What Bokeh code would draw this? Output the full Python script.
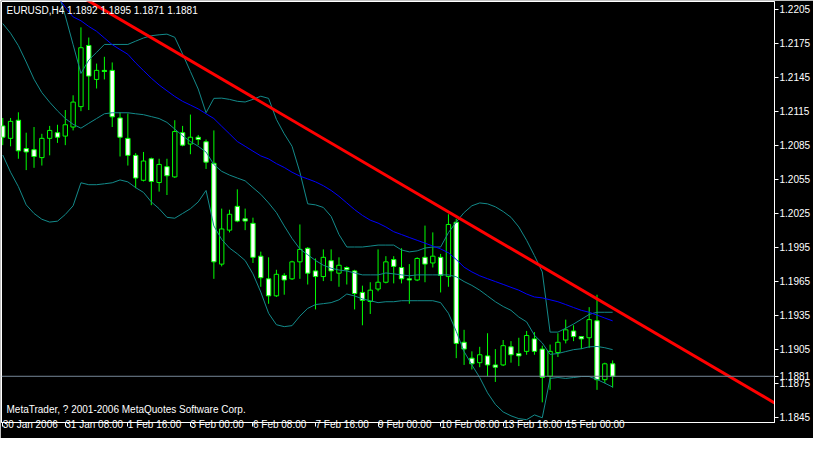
from bokeh.plotting import figure
from bokeh.models import Range1d, FixedTicker, Span, Label
from bokeh.embed import file_html
from bokeh.resources import INLINE

# ---- price data (EURUSD H4), bar index 0 = 30 Jan 2006 00:00 ----
opens = [1.2102, 1.2091, 1.2107, 1.2082, 1.2081, 1.2074, 1.2091, 1.2096, 1.2093, 1.2101,
         1.2119, 1.2173, 1.2143, 1.2151, 1.2151, 1.2109, 1.2091, 1.2076, 1.2054, 1.2073,
         1.2052, 1.2066, 1.2057, 1.2096, 1.2086, 1.2092, 1.2088, 1.2069, 1.1980, 1.2010,
         1.2031, 1.2020, 1.2016, 1.1987, 1.1967, 1.1952, 1.1970, 1.1967, 1.1982, 1.1994,
         1.1974, 1.1969, 1.1983, 1.1972, 1.1977, 1.1974, 1.1955, 1.1947, 1.1958, 1.1964,
         1.1984, 1.1977, 1.1967, 1.1966, 1.1986, 1.1981, 1.1986, 1.1969, 1.2017, 1.1911,
         1.1897, 1.1893, 1.1899, 1.1891, 1.1891, 1.1907, 1.1901, 1.1903, 1.1914, 1.1905,
         1.1881, 1.1902, 1.1913, 1.1921, 1.1916, 1.1915, 1.1930, 1.1878, 1.1892]
highs = [1.2109, 1.2109, 1.2114, 1.2096, 1.2101, 1.2095, 1.2102, 1.2103, 1.2116, 1.2129,
         1.2189, 1.2180, 1.2157, 1.2163, 1.2158, 1.2114, 1.2113, 1.2078, 1.2079, 1.2074,
         1.2073, 1.2073, 1.2107, 1.2102, 1.2112, 1.2094, 1.2090, 1.2098, 1.2029, 1.2028,
         1.2046, 1.2029, 1.2021, 1.1991, 1.1986, 1.1975, 1.1972, 1.1983, 1.2015, 1.1995,
         1.1985, 1.1993, 1.1993, 1.1986, 1.1978, 1.1975, 1.1961, 1.1964, 1.1993, 1.1987,
         1.1987, 1.1994, 1.1980, 1.1986, 1.2014, 1.2008, 1.1989, 1.2024, 1.2020, 1.1922,
         1.1903, 1.1907, 1.1919, 1.1905, 1.1913, 1.1912, 1.1915, 1.1921, 1.1920, 1.1908,
         1.1909, 1.1919, 1.1931, 1.1926, 1.1916, 1.1942, 1.1953, 1.1893, 1.1895]
lows = [1.2085, 1.2084, 1.2073, 1.2063, 1.2065, 1.2067, 1.2076, 1.2087, 1.2085, 1.2098,
        1.2115, 1.2116, 1.2135, 1.2143, 1.2101, 1.2075, 1.2067, 1.2047, 1.2053, 1.2032,
        1.2044, 1.2041, 1.2056, 1.2084, 1.2077, 1.2085, 1.2064, 1.1967, 1.1978, 1.2008,
        1.2017, 1.2010, 1.1981, 1.1960, 1.1945, 1.1951, 1.1953, 1.1966, 1.1967, 1.1962,
        1.1940, 1.1965, 1.1965, 1.1960, 1.1962, 1.1940, 1.1926, 1.1936, 1.1956, 1.1963,
        1.1963, 1.1963, 1.1945, 1.1965, 1.1964, 1.1977, 1.1955, 1.1960, 1.1897, 1.1891,
        1.1887, 1.1889, 1.1881, 1.1876, 1.1890, 1.1893, 1.1890, 1.1900, 1.1900, 1.1858,
        1.1869, 1.1898, 1.1910, 1.1912, 1.1905, 1.1906, 1.1869, 1.1875, 1.1871]
closes = [1.2092, 1.2106, 1.2080, 1.2079, 1.2075, 1.2091, 1.2098, 1.2092, 1.2103, 1.2123,
          1.2171, 1.2146, 1.2151, 1.2150, 1.2110, 1.2092, 1.2076, 1.2056, 1.2071, 1.2053,
          1.2068, 1.2058, 1.2097, 1.2085, 1.2092, 1.2090, 1.2070, 1.1982, 1.2011, 1.2024,
          1.2018, 1.2018, 1.1986, 1.1968, 1.1952, 1.1971, 1.1966, 1.1982, 1.1993, 1.1972,
          1.1969, 1.1986, 1.1974, 1.1979, 1.1975, 1.1954, 1.1948, 1.1957, 1.1964, 1.1982,
          1.1978, 1.1967, 1.1966, 1.1985, 1.1980, 1.1987, 1.1970, 1.2015, 1.1910, 1.1905,
          1.1892, 1.1900, 1.1891, 1.1889, 1.1908, 1.1900, 1.1899, 1.1917, 1.1903, 1.1880,
          1.1903, 1.1911, 1.1922, 1.1916, 1.1914, 1.1931, 1.1878, 1.1892, 1.1881]

# ---- Bollinger bands (all bars) ----
band_mid = [1.21923, 1.21838, 1.21728, 1.21584, 1.21432, 1.21314, 1.21229, 1.21153, 1.21085, 1.21034,
            1.21000, 1.21043, 1.21085, 1.21127, 1.21136, 1.21136, 1.21136, 1.21127, 1.21119, 1.21102,
            1.21085, 1.21051, 1.20992, 1.20933, 1.20882, 1.20840, 1.20789, 1.20679, 1.20619, 1.20586,
            1.20560, 1.20535, 1.20475, 1.20416, 1.20340, 1.20255, 1.20137, 1.20027, 1.19934, 1.19883,
            1.19832, 1.19790, 1.19764, 1.19748, 1.19739, 1.19722, 1.19705, 1.19705, 1.19705, 1.19722,
            1.19714, 1.19705, 1.19697, 1.19705, 1.19705, 1.19705, 1.19705, 1.19705, 1.19688, 1.19646,
            1.19612, 1.19570, 1.19519, 1.19468, 1.19426, 1.19392, 1.19333, 1.19290, 1.19172, 1.19104,
            1.19003, 1.19011, 1.19028, 1.19045, 1.19053, 1.19070, 1.19073, 1.19062, 1.19045]
band_low = [1.20763, 1.20611, 1.20484, 1.20323, 1.20247, 1.20196, 1.20171, 1.20179, 1.20238, 1.20315,
            1.20518, 1.20501, 1.20501, 1.20509, 1.20518, 1.20543, 1.20526, 1.20475, 1.20433, 1.20349,
            1.20289, 1.20213, 1.20205, 1.20247, 1.20289, 1.20349, 1.20450, 1.20137, 1.20018, 1.19942,
            1.19891, 1.19832, 1.19714, 1.19553, 1.19366, 1.19265, 1.19248, 1.19257, 1.19341, 1.19409,
            1.19443, 1.19451, 1.19460, 1.19485, 1.19536, 1.19519, 1.19493, 1.19477, 1.19460, 1.19468,
            1.19468, 1.19477, 1.19477, 1.19477, 1.19477, 1.19477, 1.19460, 1.19366, 1.19206, 1.19028,
            1.18910, 1.18799, 1.18664, 1.18562, 1.18495, 1.18461, 1.18436, 1.18427, 1.18469, 1.18444,
            1.18791, 1.18799, 1.18791, 1.18799, 1.18808, 1.18808, 1.18782, 1.18749, 1.18715]
# upper band and moving average start at bar 7 (earlier values above the chart)
upper_start = 7
band_up = [1.22219, 1.21991, 1.21737, 1.21483, 1.21601, 1.21669, 1.21739, 1.21739, 1.21739, 1.21739,
           1.21768, 1.21796, 1.21816, 1.21824, 1.21830, 1.21802, 1.21655, 1.21500, 1.21345, 1.21136,
           1.21263, 1.21265, 1.21254, 1.21237, 1.21231, 1.21254, 1.21282, 1.21263, 1.21077, 1.20950,
           1.20840, 1.20611, 1.20332, 1.20323, 1.20300, 1.20221, 1.20061, 1.19951, 1.19951, 1.19951,
           1.19959, 1.19968, 1.19968, 1.19968, 1.19925, 1.19908, 1.19917, 1.19942, 1.19951, 1.19951,
           1.20078, 1.20171, 1.20255, 1.20315, 1.20340, 1.20332, 1.20306, 1.20264, 1.20213, 1.20128,
           1.20010, 1.19875, 1.19731, 1.19200, 1.19200, 1.19234, 1.19271, 1.19313, 1.19356, 1.19375,
           1.19375, 1.19375]
ma_blue = [1.22160, 1.22067, 1.21982, 1.21948, 1.21898, 1.21855, 1.21796, 1.21737, 1.21694, 1.21652,
           1.21576, 1.21508, 1.21441, 1.21381, 1.21330, 1.21280, 1.21237, 1.21204, 1.21170, 1.21127,
           1.21085, 1.21017, 1.20950, 1.20882, 1.20840, 1.20797, 1.20755, 1.20729, 1.20687, 1.20653,
           1.20611, 1.20577, 1.20552, 1.20526, 1.20492, 1.20450, 1.20399, 1.20340, 1.20281, 1.20230,
           1.20188, 1.20162, 1.20128, 1.20086, 1.20061, 1.20035, 1.20010, 1.19985, 1.19959, 1.19934,
           1.19900, 1.19841, 1.19773, 1.19731, 1.19697, 1.19671, 1.19646, 1.19621, 1.19595, 1.19570,
           1.19536, 1.19510, 1.19502, 1.19485, 1.19468, 1.19443, 1.19417, 1.19392, 1.19375, 1.19350,
           1.19324, 1.19299]

# ---- trend line (two anchor points, bar index / price) ----
trend_x = [0, 98.7]
trend_y = [1.22567, 1.18575]

# ---- axes ----
y_ticks = [1.1845, 1.1875, 1.1905, 1.1935, 1.1965, 1.1995, 1.2025, 1.2055, 1.2085,
           1.2115, 1.2145, 1.2175, 1.2205]
y_tick_labels = ["1.1845", "1.1875", "1.1905", "1.1935", "1.1965", "1.1995", "1.2025",
                 "1.2055", "1.2085", "1.2115", "1.2145", "1.2175", "1.2205"]
x_ticks = [0, 8, 16, 24, 32, 40, 48, 56, 64, 72]
x_tick_labels = ["30 Jan 2006", "31 Jan 08:00", "1 Feb 16:00", "3 Feb 00:00", "6 Feb 08:00",
                 "7 Feb 16:00", "9 Feb 00:00", "10 Feb 08:00", "13 Feb 16:00", "15 Feb 00:00"]
x_min, x_max = -0.16, 98.7
y_min, y_max = 1.18402, 1.22118

symbol_text = "EURUSD,H4  1.1892 1.1895 1.1871 1.1881"
copyright_text = "MetaTrader, ? 2001-2006 MetaQuotes Software Corp."
bid_text = "1.1881"

FONT = "Liberation Sans"
GREEN = "#00FF00"
TEAL = "#138a8a"

bars = list(range(len(opens)))

p = figure(width=813, height=438, output_backend="svg", toolbar_location=None,
           x_range=Range1d(x_min, x_max), y_range=Range1d(y_min, y_max),
           y_axis_location="right", min_border=0, min_border_left=1, min_border_top=1,
           min_border_right=0, min_border_bottom=0)
p.background_fill_color = "black"
p.border_fill_color = "black"
p.outline_line_color = "white"
p.outline_line_width = 1
p.xgrid.visible = False
p.ygrid.visible = False

# y axis (the current bid is shown as an extra tick label)
ya = p.yaxis[0]
ya.ticker = FixedTicker(ticks=y_ticks + [closes[-1]])
overrides = {t: s for t, s in zip(y_ticks, y_tick_labels)}
overrides[closes[-1]] = bid_text
ya.major_label_overrides = overrides
ya.axis_line_color = "white"
ya.major_tick_line_color = "white"
ya.minor_tick_line_color = None
ya.major_tick_out = 4
ya.major_tick_in = 0
ya.major_label_standoff = 1
ya.axis_label_standoff = 0
ya.major_label_text_color = "white"
ya.major_label_text_font = FONT
ya.major_label_text_font_size = "10px"

# x axis (labels start at their tick, as in the terminal)
xa = p.xaxis[0]
xa.ticker = FixedTicker(ticks=x_ticks)
xa.major_label_overrides = {t: s for t, s in zip(x_ticks, x_tick_labels)}
xa.axis_line_color = "white"
xa.major_tick_line_color = "white"
xa.minor_tick_line_color = None
xa.major_tick_out = 4
xa.major_tick_in = 0
xa.major_label_standoff = -2
xa.axis_label_standoff = 0
xa.major_label_orientation = -0.000001
xa.major_label_text_color = "white"
xa.major_label_text_font = FONT
xa.major_label_text_font_size = "10px"

# bid line
p.add_layout(Span(location=closes[-1], dimension="width", line_color="#778899", line_width=1))

# candles
p.segment(x0=bars, y0=lows, x1=bars, y1=highs, line_color=GREEN, line_width=1)
bull_x = [i for i in bars if closes[i] >= opens[i]]
bear_x = [i for i in bars if closes[i] < opens[i]]
p.vbar(x=bull_x, width=0.56, bottom=[opens[i] for i in bull_x], top=[closes[i] for i in bull_x],
       fill_color="black", line_color=GREEN, line_width=1)
p.vbar(x=bear_x, width=0.56, bottom=[closes[i] for i in bear_x], top=[opens[i] for i in bear_x],
       fill_color="white", line_color=GREEN, line_width=1)

# indicators
p.line(bars, band_mid, line_color=TEAL, line_width=1)
p.line(bars, band_low, line_color=TEAL, line_width=1)
p.line(bars[upper_start:], band_up, line_color=TEAL, line_width=1)
p.line(bars[upper_start:], ma_blue, line_color="#0000FF", line_width=1)

# trend line
p.line(trend_x, trend_y, line_color="#FF0000", line_width=3)

# texts
p.add_layout(Label(x=x_min, y=y_max, x_offset=5, y_offset=-3, text=symbol_text,
                   text_color="white", text_font=FONT, text_font_size="10px",
                   text_baseline="top"))
p.add_layout(Label(x=x_min, y=y_min, x_offset=5, y_offset=8, text=copyright_text,
                   text_color="white", text_font=FONT, text_font_size="10px",
                   text_baseline="bottom"))

open("out.html", "w").write(file_html(p, INLINE))
